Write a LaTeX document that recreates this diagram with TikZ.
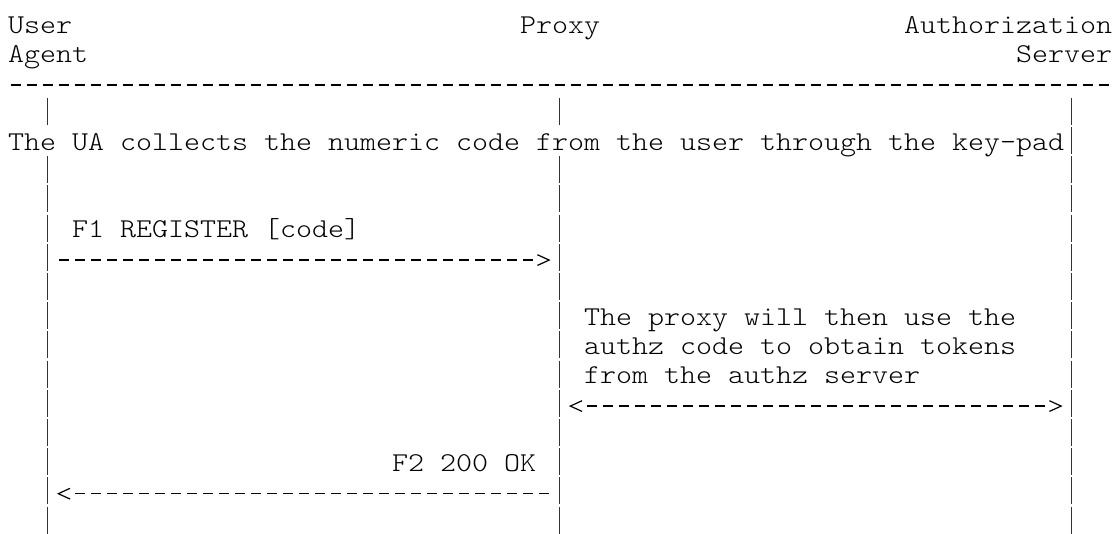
\documentclass[tikz,border=0pt]{standalone}
\usepackage{fontspec}
\newfontfamily\asciifont{lmmonolt10-regular.otf}[FakeStretch=1.1204]
\usetikzlibrary{calc}

\tikzset{
  lbl/.style={anchor=base west, inner sep=0pt, font=\asciifont\fontsize{13.6}{14.6}\selectfont},
  lifeline/.style={line width=0.75pt, black!80, dash pattern=on 13.5pt off 1.1pt},
  rule/.style={line width=0.65pt, dash pattern=on 5pt off 3pt},
  chevron/.style={line width=0.6pt, line join=miter, line cap=butt}
}

\begin{document}
\begin{tikzpicture}[x=8pt,y=14.6pt]
\useasboundingbox (-0.481,1.147) rectangle (69.456,-17.140);

% ---- heads ----
\node[lbl] (ua) at (0,0) {User};
\node[lbl] (ua2) at (0,-1) {Agent};
\node[lbl] (px) at (32,0) {Proxy};
\node[lbl] (as) at (56,0) {Authorization};
\node[lbl] (as2) at (63,-1) {Server};

% header rule
\coordinate (rule-l) at (0.1875,-1.76);
\coordinate (rule-r) at (68.8125,-1.76);
\draw[rule] (rule-l) -- (rule-r);

% ---- lifelines (cut where the long note runs over them) ----
\coordinate (ua-top) at (2.5,-2.202);
\coordinate (ua-cut) at (2.5,-3.127);
\coordinate (ua-mid) at (2.5,-4.202);
\coordinate (ua-bot) at (2.5,-17.127);
\coordinate (px-top) at (34.5,-2.202);
\coordinate (px-cut) at (34.5,-3.127);
\coordinate (px-mid) at (34.5,-4.202);
\coordinate (px-bot) at (34.5,-17.127);
\coordinate (as-top) at (66.5,-2.202);
\coordinate (as-bot) at (66.5,-17.127);

\draw[lifeline] (ua-top) -- (ua-cut);
\draw[lifeline] (ua-mid) -- (ua-bot);
\draw[lifeline] (px-top) -- (px-cut);
\draw[lifeline] (px-mid) -- (px-bot);
\draw[lifeline] (as-top) -- (as-bot);

% ---- notes ----
\node[lbl] (collect) at (0,-4) {The UA collects the numeric code from the user through the key-pad};
\node[lbl] (note1) at (36,-10) {The proxy will then use the};
\node[lbl] (note2) at (36,-11) {authz code to obtain tokens};
\node[lbl] (note3) at (36,-12) {from the authz server};

% ---- F1 REGISTER ----
\node[lbl] (f1) at (4,-7) {F1 REGISTER [code]};
\coordinate (f1-from) at (3.1875,-7.76);
\coordinate (f1-to) at (33.84,-7.76);
\draw[rule] (f1-from) -- ($(f1-to)+(-1.0275,0)$);
\draw[chevron] ($(f1-to)+(-0.734,0.183)$) -- (f1-to) -- ($(f1-to)+(-0.734,-0.183)$);

% ---- proxy <-> authz server ----
\coordinate (tok-l) at (35.1625,-12.76);
\coordinate (tok-r) at (65.84,-12.76);
\draw[rule] ($(tok-l)+(1.025,0)$) -- ($(tok-r)+(-1.0275,0)$);
\draw[chevron] ($(tok-l)+(0.734,0.183)$) -- (tok-l) -- ($(tok-l)+(0.734,-0.183)$);
\draw[chevron] ($(tok-r)+(-0.734,0.183)$) -- (tok-r) -- ($(tok-r)+(-0.734,-0.183)$);

% ---- F2 200 OK ----
\node[lbl] (f2) at (24,-15) {F2 200 OK};
\coordinate (f2-from) at (33.8125,-15.76);
\coordinate (f2-to) at (3.1625,-15.76);
\draw[rule] (f2-from) -- ($(f2-to)+(1.025,0)$);
\draw[chevron] ($(f2-to)+(0.734,0.183)$) -- (f2-to) -- ($(f2-to)+(0.734,-0.183)$);

\end{tikzpicture}
\end{document}
